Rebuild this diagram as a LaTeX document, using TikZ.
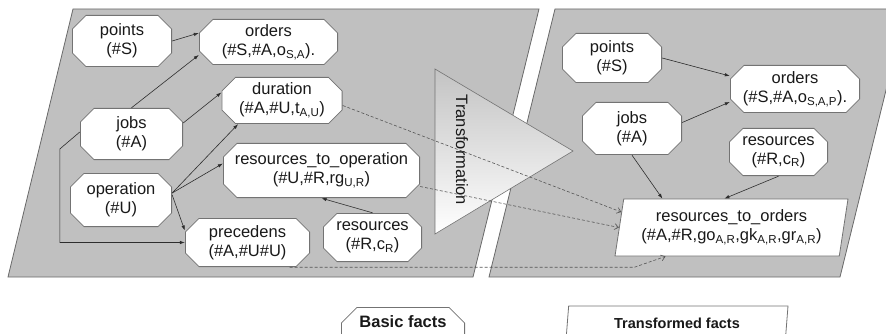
\documentclass[tikz,border=0pt]{standalone}
\usepackage{fontspec}
\setmainfont{Liberation Sans}
\usetikzlibrary{shapes.geometric,arrows.meta}
\definecolor{panelgray}{RGB}{192,192,192}
\definecolor{edgegray}{RGB}{105,105,105}
\definecolor{boxedge}{RGB}{115,115,115}
\definecolor{arrowgray}{RGB}{45,45,45}
\definecolor{dashgray}{RGB}{85,85,85}
\definecolor{inkgray}{RGB}{25,25,25}

\begin{document}
\begin{tikzpicture}[x=1pt,y=-1pt,
	fact/.default=14pt,
	fact/.style={rectangle,inner sep=0pt,align=center,text=inkgray,
		font=\fontsize{16.5}{19}\selectfont,
		path picture={\filldraw[draw=boxedge,fill=white,line width=0.8pt]
			([shift={(#1,-0.4pt)}]path picture bounding box.north west) --
			([shift={(-#1,-0.4pt)}]path picture bounding box.north east) --
			([shift={(-0.4pt,-#1)}]path picture bounding box.north east) --
			([shift={(-0.4pt,#1)}]path picture bounding box.south east) --
			([shift={(-#1,0.4pt)}]path picture bounding box.south east) --
			([shift={(#1,0.4pt)}]path picture bounding box.south west) --
			([shift={(0.4pt,#1)}]path picture bounding box.south west) --
			([shift={(0.4pt,-#1)}]path picture bounding box.north west) -- cycle;}},
	newfact/.style={trapezium,trapezium left angle=76,trapezium right angle=104,trapezium stretches body,
		draw=boxedge,fill=white,line width=0.8pt,inner sep=0pt,align=center,text=inkgray,
		font=\fontsize{16.5}{19}\selectfont},
	panel/.style={fill=panelgray,draw=edgegray,line width=0.8pt},
	arr/.style={draw=arrowgray,line width=0.6pt,-{Latex[length=5pt,width=3.5pt]}},
	darr/.style={draw=dashgray,line width=0.6pt,dash pattern=on 3pt off 2pt,-{Straight Barb[length=4pt,width=6pt]}}]
	\useasboundingbox (0,0) rectangle (886,334);
	\clip (0,0) rectangle (886,334);
	% panels
	\draw[panel] (73,9) -- (539,9) -- (473,277) -- (8,277) -- cycle;
	\draw[panel] (555,9) -- (906,9) -- (840,277) -- (489,277) -- cycle;
	% transformation
	\draw[draw=boxedge,line width=0.6pt,top color={rgb,255:red,195;green,195;blue,195},bottom color=white]
		(435,69) -- (573,151) -- (435,234) -- cycle;
	\node[rotate=-90,text=inkgray,font=\fontsize{16.5}{19}\selectfont] (trans) at (462,150) {Transformation};
	% basic facts
	\node[fact,minimum width=100pt,minimum height=52pt] (lpoints) at (122,41) {points\\(\#S)};
	\node[fact,minimum width=139pt,minimum height=46pt] (lorders) at (268.5,42) {orders\\(\#S,\#A,o\textsubscript{S,A}).};
	\node[fact,minimum width=121pt,minimum height=47pt] (lduration) at (282,100.5) {duration\\(\#A,\#U,t\textsubscript{A,U})};
	\node[fact,minimum width=103pt,minimum height=52pt] (ljobs) at (131.5,134) {jobs\\(\#A)};
	\node[fact,minimum width=197pt,minimum height=55pt] (lrto) at (321.5,170.5) {resources\_to\_operation\\(\#U,\#R,rg\textsubscript{U,R})};
	\node[fact,minimum width=102pt,minimum height=54pt] (lop) at (121,200) {operation\\(\#U)};
	\node[fact,minimum width=125pt,minimum height=49pt] (lprec) at (247.5,242.5) {precedens\\(\#A,\#U\#U)};
	\node[fact,minimum width=99pt,minimum height=49pt] (lres) at (372.5,237.5) {resources\\(\#R,c\textsubscript{R})};
	% transformed facts
	\node[fact,minimum width=100pt,minimum height=50pt] (rpoints) at (612,58) {points\\(\#S)};
	\node[fact,minimum width=130pt,minimum height=48pt] (rorders) at (795,89) {orders\\(\#S,\#A,o\textsubscript{S,A,P}).};
	\node[fact,minimum width=100pt,minimum height=53pt] (rjobs) at (632,128.5) {jobs\\(\#A)};
	\node[fact,minimum width=99pt,minimum height=48pt] (rres) at (778.5,152) {resources\\(\#R,c\textsubscript{R})};
	\node[newfact,minimum width=233pt,minimum height=57pt] (rrto) at (731.5,227.5) {resources\_to\_orders\\(\#A,\#R,go\textsubscript{A,R},gk\textsubscript{A,R},gr\textsubscript{A,R})};
	% arrows left
	\draw[arr] (lpoints.east) -- ([yshift=9pt]lorders.west);
	\draw[arr] (ljobs.north) -- ([yshift=-13pt]lorders.west);
	\draw[arr] ([yshift=11pt]ljobs.east) -- ([yshift=8pt]lduration.west);
	\draw[arr] ([yshift=7pt]lop.east) -- ([xshift=-44pt]lduration.south);
	\draw[arr] ([yshift=7pt]lop.east) -- ([yshift=7pt]lrto.west);
	\draw[arr] ([yshift=5pt]lop.east) -- ([yshift=12pt]lprec.west);
	\draw[arr] ([yshift=2pt]ljobs.west) -- ++(-20pt,-17pt) |- (lprec.west);
	\draw[arr] (lres.north) -- (lrto.south);
	% arrows right
	\draw[arr] (rpoints.east) -- ([yshift=13pt]rorders.west);
	\draw[arr] ([yshift=6pt]rjobs.east) -- ([yshift=-13pt]rorders.west);
	\draw[arr] (rjobs.south) -- ([xshift=39pt]rrto.top left corner);
	\draw[arr] (rres.south) -- ([xshift=101pt]rrto.top left corner);
	% dashed
	\draw[darr] ([yshift=-5pt]lduration.east) -- (rrto.172);
	\draw[darr] ([yshift=-16pt]lrto.east) -- (rrto.left side);
	\draw[darr] ([xshift=42pt]lprec.south) -- ++(345pt,0) -- ([xshift=51pt]rrto.bottom left corner);
	% legend
	\node[fact=16pt,anchor=base,minimum width=124pt,text height=20pt,text depth=26pt,
		font=\bfseries\fontsize{16.5}{19}\selectfont] (basic) at (403,327) {Basic facts};
	\node[newfact,minimum width=222pt,minimum height=34pt,font=\bfseries\fontsize{14.5}{17}\selectfont] (transf) at (677,323) {Transformed facts};
\end{tikzpicture}
\end{document}
